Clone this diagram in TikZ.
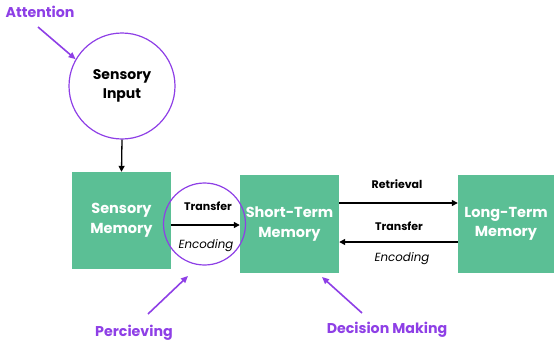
\documentclass[tikz,border=0pt]{standalone}
\usepackage{fontspec}
\setmainfont{Poppins}
\usetikzlibrary{arrows.meta}
\definecolor{mgreen}{HTML}{5BBF95}
\definecolor{mpurple}{HTML}{8E3FE6}
\begin{document}
\begin{tikzpicture}[x=1pt,y=-1pt,
  box/.style={fill=mgreen,draw=none,text=white,font=\fontsize{14.5}{19.5}\selectfont\bfseries,align=center,inner sep=0},
  ring/.style={circle,draw=mpurple,line width=1.2pt,inner sep=0},
  conn/.style={-{Triangle[length=6pt,width=6pt]},line width=1.3pt,black},
  pconn/.style={-{Triangle[length=7pt,width=6pt]},line width=1.6pt,mpurple},
  plabel/.style={text=mpurple,font=\fontsize{14.2}{16}\selectfont\bfseries,inner sep=0},
  alabel/.style={font=\fontsize{11}{12}\selectfont\bfseries,inner sep=0},
  elabel/.style={font=\fontsize{11.8}{13}\selectfont\itshape,inner sep=0}]
\useasboundingbox (0,0) rectangle (554,351);
\node[ring,minimum size=106pt,font=\fontsize{14}{19}\selectfont\bfseries,align=center] (si) at (122,86) {Sensory\\Input};
\node[box,minimum width=99pt,minimum height=97pt] (sm) at (121.5,220.5) {Sensory\\Memory};
\node[box,minimum width=99pt,minimum height=98pt] (stm) at (289.5,224) {Short-Term\\Memory};
\node[box,minimum width=96pt,minimum height=98pt] (ltm) at (506,224) {Long-Term\\Memory};
\node[ring,minimum size=82pt] (enc) at (204.5,224) {};
\draw[conn] (si.south) -- (sm.north);
\draw[conn] (sm.east |- 0,225) -- (stm.west |- 0,225);
\node[alabel] (t1) at (208,206) {Transfer};
\node[elabel] (e1) at (206,246) {Encoding};
\draw[conn] (stm.east |- 0,203) -- (ltm.west |- 0,203);
\node[alabel] (r1) at (397,184) {Retrieval};
\draw[conn] (ltm.west |- 0,242) -- (stm.east |- 0,242);
\node[alabel] (t2) at (399,226) {Transfer};
\node[elabel] (e2) at (402,259) {Encoding};
\node[plabel] (att) at (40,12) {Attention};
\coordinate (att0) at (38,27);
\draw[pconn] (att0) -- (si.150);
\node[plabel] (per) at (134,333) {Percieving};
\coordinate (per0) at (148,314);
\draw[pconn] (per0) -- (188,276);
\node[plabel] (dec) at (387,330) {Decision Making};
\coordinate (dec0) at (362,313);
\draw[pconn] (dec0) -- (322,277);
\end{tikzpicture}
\end{document}
